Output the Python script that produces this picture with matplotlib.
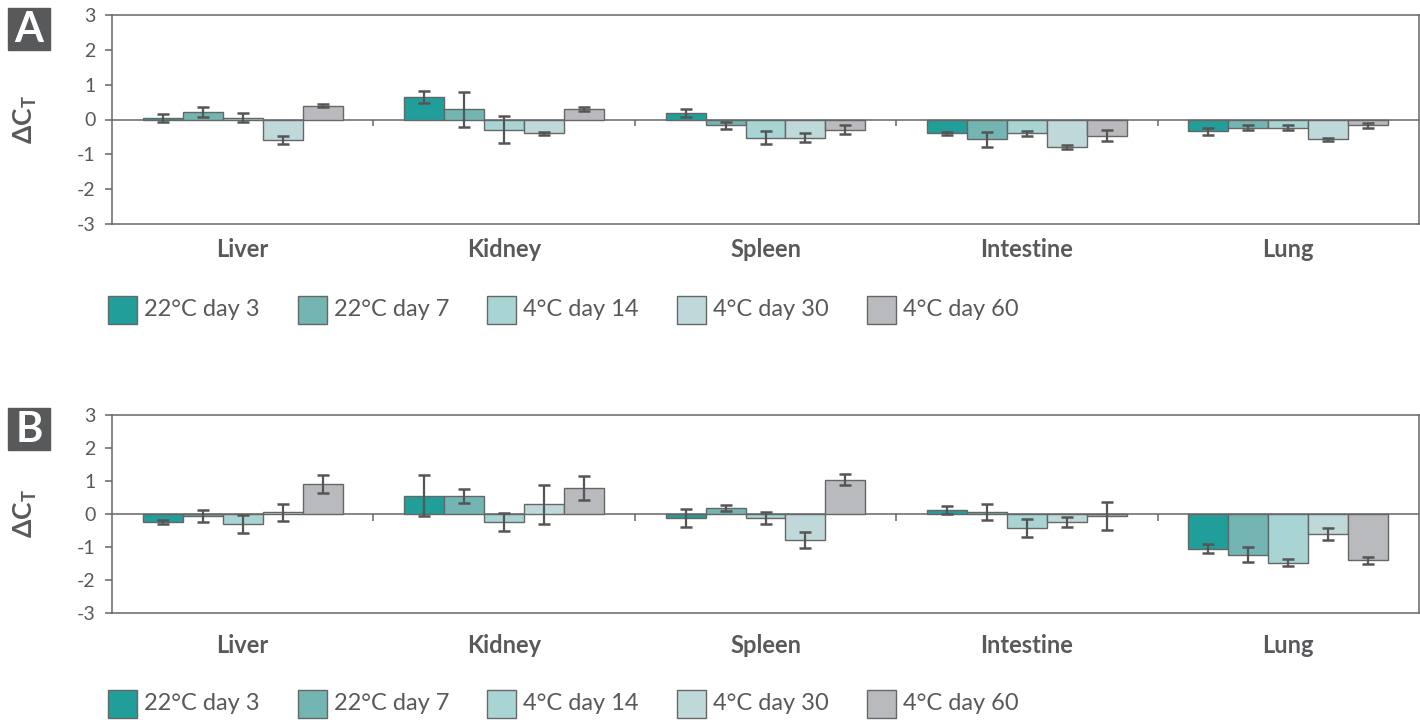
import numpy as np
import matplotlib.pyplot as plt
from matplotlib.patches import Rectangle

plt.rcParams['font.family'] = ['Lato', 'DejaVu Sans']
plt.rcParams['mathtext.fontset'] = 'custom'
plt.rcParams['mathtext.bf'] = 'Lato:bold'
plt.rcParams['mathtext.rm'] = 'Lato'
plt.rcParams['axes.unicode_minus'] = False

# ---------------- data ----------------
tissues = ['Liver', 'Kidney', 'Spleen', 'Intestine', 'Lung']
conditions = ['22°C day 3', '22°C day 7', '4°C day 14', '4°C day 30', '4°C day 60']
colors = ['#229e9a', '#72b5b2', '#a8d4d4', '#bfd9da', '#b9babd']

# panel A, one row per condition (Liver, Kidney, Spleen, Intestine, Lung)
a_d3 = [0.05, 0.64, 0.18, -0.40, -0.34]
a_d7 = [0.22, 0.29, -0.17, -0.57, -0.23]
a_d14 = [0.05, -0.29, -0.52, -0.40, -0.23]
a_d30 = [-0.58, -0.40, -0.52, -0.80, -0.57]
a_d60 = [0.40, 0.29, -0.29, -0.47, -0.17]
a_err_d3 = [0.12, 0.18, 0.12, 0.05, 0.10]
a_err_d7 = [0.14, 0.50, 0.11, 0.22, 0.07]
a_err_d14 = [0.13, 0.38, 0.18, 0.08, 0.07]
a_err_d30 = [0.12, 0.04, 0.13, 0.06, 0.04]
a_err_d60 = [0.04, 0.06, 0.13, 0.16, 0.07]

# panel B
b_d3 = [-0.24, 0.55, -0.12, 0.12, -1.05]
b_d7 = [-0.06, 0.55, 0.18, 0.06, -1.23]
b_d14 = [-0.31, -0.24, -0.12, -0.43, -1.47]
b_d30 = [0.05, 0.30, -0.79, -0.24, -0.61]
b_d60 = [0.91, 0.79, 1.04, -0.06, -1.40]
b_err_d3 = [0.07, 0.62, 0.28, 0.13, 0.14]
b_err_d7 = [0.19, 0.22, 0.09, 0.25, 0.22]
b_err_d14 = [0.28, 0.26, 0.19, 0.28, 0.10]
b_err_d30 = [0.25, 0.59, 0.25, 0.16, 0.19]
b_err_d60 = [0.28, 0.37, 0.16, 0.41, 0.10]

a_vals = [a_d3, a_d7, a_d14, a_d30, a_d60]
a_errs = [a_err_d3, a_err_d7, a_err_d14, a_err_d30, a_err_d60]
b_vals = [b_d3, b_d7, b_d14, b_d30, b_d60]
b_errs = [b_err_d3, b_err_d7, b_err_d14, b_err_d30, b_err_d60]

grey = '#58595b'
W, H = 1420, 723

fig = plt.figure(figsize=(W / 100, H / 100), dpi=100)


def px(x0, y0, x1, y1):
    # pixel box (top-left origin) -> figure fraction [l, b, w, h]
    return [x0 / W, 1 - y1 / H, (x1 - x0) / W, (y1 - y0) / H]


def draw_panel(rect, vals, errs, letter, box_y, legend_y, label_pad):
    ax = fig.add_axes(px(*rect))
    x = np.arange(len(tissues))
    bw = 0.153
    for i, (v, e) in enumerate(zip(vals, errs)):
        ax.bar(x + (i - 2) * bw, v, bw, color=colors[i], edgecolor='#666666',
               linewidth=1.0, zorder=2)
        ax.errorbar(x + (i - 2) * bw, v, yerr=e, fmt='none', ecolor='#555555',
                    elinewidth=1.6, capsize=4, capthick=1.8, zorder=3)
    ax.axhline(0, color='#666666', lw=1.1, zorder=1)
    ax.vlines(x[:-1] + 0.5, -0.2, 0, color='#666666', lw=1.1)
    ax.set_xlim(-0.5, len(tissues) - 0.5)
    ax.set_ylim(-3, 3)
    ax.set_yticks(range(-3, 4))
    ax.set_xticks(x)
    ax.set_xticklabels(tissues, fontsize=17, fontweight='bold', color=grey)
    ax.tick_params(axis='x', length=0, pad=label_pad)
    ax.tick_params(axis='y', length=5, width=1.1, color='#666666',
                   labelsize=14, labelcolor=grey, pad=7)
    for s in ax.spines.values():
        s.set_color('#666666')
        s.set_linewidth(1.1)
    ax.set_ylabel(r'$\mathbf{\Delta C_T}$', fontsize=19, color=grey)
    ax.yaxis.set_label_coords(-0.056, 0.5)

    # panel letter
    fig.add_artist(Rectangle((8 / W, 1 - (box_y + 42) / H), 42 / W, 42 / H,
                             transform=fig.transFigure, color=grey))
    fig.text(29 / W, 1 - (box_y + 22) / H, letter, color='white', fontsize=30,
             fontweight='bold', ha='center', va='center')

    # legend
    for i, lab in enumerate(conditions):
        lx = 108 + i * 189.7
        fig.add_artist(Rectangle((lx / W, 1 - (legend_y + 14) / H), 29 / W, 28 / H,
                                 transform=fig.transFigure, facecolor=colors[i],
                                 edgecolor='#666666', linewidth=1.0))
        fig.text((lx + 36) / W, 1 - legend_y / H, lab, color=grey, fontsize=17,
                 ha='left', va='center')
    return ax


draw_panel((112, 15, 1419, 224), a_vals, a_errs, 'A', 8, 310, 10)
draw_panel((112, 415, 1419, 613), b_vals, b_errs, 'B', 408, 704, 15)

fig.savefig('out.png', dpi=100)
